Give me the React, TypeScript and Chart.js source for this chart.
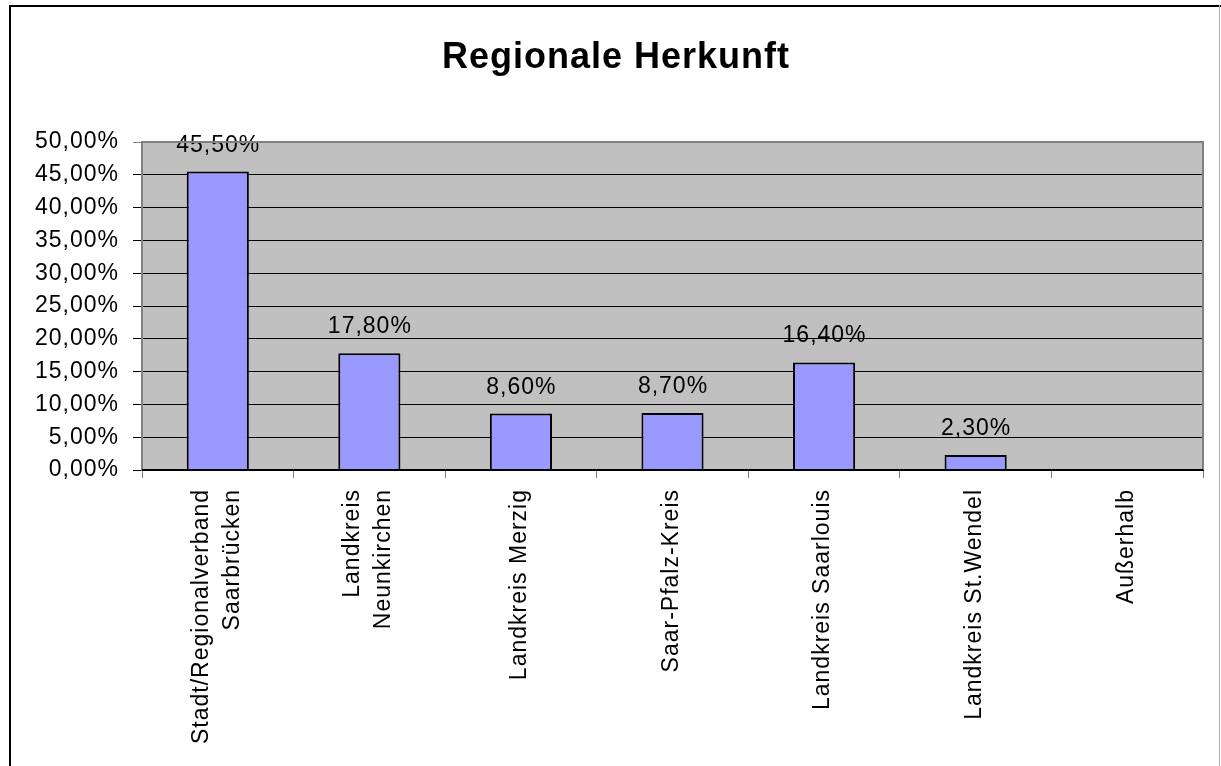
import React, { useEffect, useRef } from "react";
import { Chart, registerables } from "chart.js";

Chart.register(...registerables);

// ---- data ----
const chartTitle = "Regionale Herkunft";
const categories: (string | string[])[] = [
  ["Stadt/Regionalverband", "Saarbrücken"],
  ["Landkreis", "Neunkirchen"],
  "Landkreis Merzig",
  "Saar-Pfalz-Kreis",
  "Landkreis Saarlouis",
  "Landkreis St.Wendel",
  "Außerhalb",
];
const shareValues: (number | null)[] = [45.5, 17.8, 8.6, 8.7, 16.4, 2.3, null];
const yMin = 0;
const yMax = 50;
const yStep = 5;

const FONT = '"Liberation Sans", Arial, sans-serif';
const fmt = (v: number) => v.toFixed(2).replace(".", ",") + "%";
const LINE_H = 31;
const SPACING = "1px";
const FS = 23;

const decor = {
  id: "decor",
  beforeDraw(chart: any) {
    const { ctx, chartArea: a } = chart;
    ctx.letterSpacing = SPACING;
    ctx.save();
    ctx.fillStyle = "#ffffff";
    ctx.fillRect(0, 0, chart.width, chart.height);
    ctx.fillStyle = "#C0C0C0";
    ctx.fillRect(a.left, a.top, a.right - a.left, a.bottom - a.top);
    ctx.restore();
  },
  afterDatasetsDraw(chart: any) {
    const { ctx } = chart;
    const meta = chart.getDatasetMeta(0);
    ctx.save();
    ctx.letterSpacing = SPACING;
    ctx.font = `${FS}px ${FONT}`;
    ctx.fillStyle = "#000";
    ctx.textAlign = "center";
    ctx.textBaseline = "alphabetic";
    meta.data.forEach((el: any, i: number) => {
      const v = shareValues[i];
      if (v == null) return;
      ctx.fillText(fmt(v), el.x + 0.5, el.y - 20);
    });
    ctx.restore();
  },
  afterDraw(chart: any) {
    const { ctx, chartArea: a } = chart;
    ctx.save();
    // plot area border (top, right) and x axis line
    ctx.fillStyle = "#808080";
    ctx.fillRect(a.left, a.top - 1, a.right - a.left + 1, 2);
    ctx.fillRect(a.right - 1, a.top - 1, 2, a.bottom - a.top + 1);
    ctx.fillStyle = "#000";
    ctx.fillRect(a.left, a.bottom - 1, a.right - a.left, 2);

    // x labels
    const xs = chart.scales.x;
    ctx.font = `${FS}px ${FONT}`;
    ctx.letterSpacing = SPACING;
    ctx.fillStyle = "#000";
    ctx.textAlign = "right";
    ctx.textBaseline = "middle";
    categories.forEach((lab, i) => {
      const lines = Array.isArray(lab) ? lab : [lab];
      const cx = xs.getPixelForValue(i);
      lines.forEach((ln, j) => {
        const off = (j - (lines.length - 1) / 2) * LINE_H;
        ctx.save();
        ctx.translate(cx + off - 1, 489);
        ctx.rotate(-Math.PI / 2);
        ctx.fillText(ln, 0, 0);
        ctx.restore();
      });
    });

    // title
    ctx.font = `bold 36px ${FONT}`;
    ctx.letterSpacing = "1px";
    ctx.textAlign = "center";
    ctx.textBaseline = "alphabetic";
    ctx.fillText(chartTitle, 616, 68);

    // outer chart border
    ctx.fillStyle = "#000";
    ctx.fillRect(9, 5, 2, chart.height - 5);
    ctx.fillRect(9, 5, chart.width - 9, 2);
    ctx.fillStyle = "#b0b0b0";
    ctx.fillRect(1219, 5, 1, chart.height - 5);
    ctx.restore();
  },
};

export default function App() {
  const ref = useRef<HTMLCanvasElement | null>(null);
  useEffect(() => {
    if (!ref.current) return;
    const chart = new Chart(ref.current, {
      type: "bar",
      data: {
        labels: categories as any,
        datasets: [
          {
            data: shareValues as any,
            backgroundColor: "#9999FF",
            borderColor: "#000000",
            borderWidth: 2,
            barPercentage: 0.41,
            categoryPercentage: 1,
          },
        ],
      },
      options: {
        animation: false,
        responsive: false,
        devicePixelRatio: 1,
        layout: { padding: { top: 142, right: 18, bottom: 0, left: 0 } },
        plugins: {
          legend: { display: false },
          tooltip: { enabled: false },
          title: { display: false },
        },
        scales: {
          x: {
            offset: true,
            afterFit: (s: any) => {
              s.height = 296;
            },
            grid: {
              display: true,
              drawOnChartArea: false,
              drawTicks: true,
              tickLength: 8,
              color: "#808080",
              offset: true,
            },
            border: { display: true, color: "#000", width: 1 },
            ticks: { display: false },
          },
          y: {
            min: yMin,
            max: yMax,
            afterFit: (s: any) => {
              s.width = 142;
            },
            ticks: {
              stepSize: yStep,
              color: "#000",
              padding: 14,
              font: { family: FONT, size: FS },
              callback: (v: any) => fmt(Number(v)),
            },
            grid: {
              color: (c: any) => (c.tick && c.tick.value === yMax ? "#808080" : "#000"),
              lineWidth: 1,
              drawTicks: true,
              tickLength: 9,
            },
            border: { display: true, color: "#808080", width: 2 },
          },
        },
      },
      plugins: [decor],
    });
    return () => chart.destroy();
  }, []);
  return (
    <canvas
      ref={ref}
      width={1221}
      height={766}
      style={{ position: "absolute", left: 0, top: 0, width: 1221, height: 766 }}
    />
  );
}
